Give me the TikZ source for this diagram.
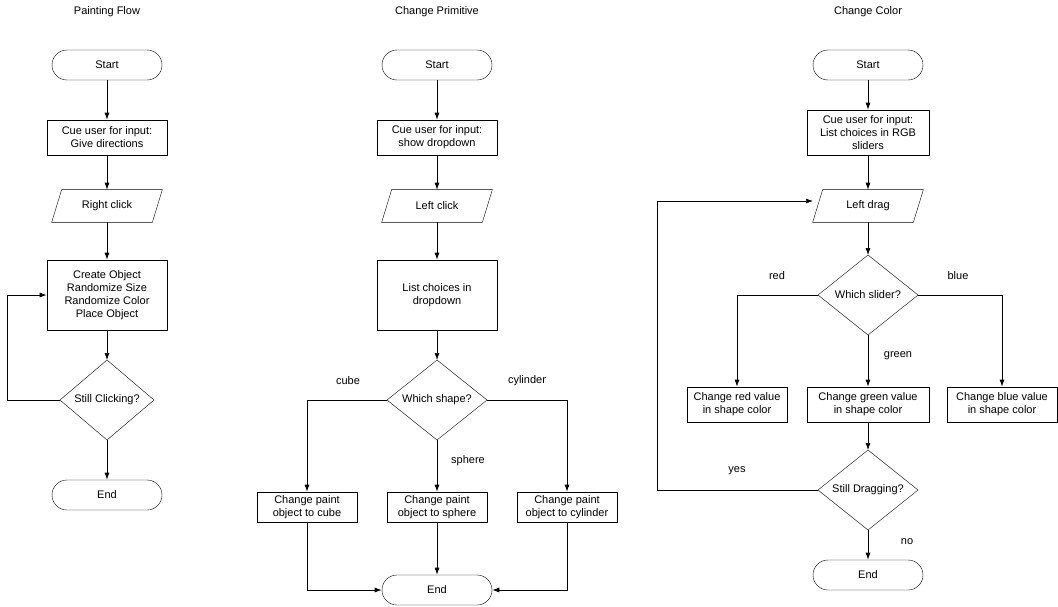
\documentclass[tikz,border=0pt]{standalone}
\usepackage{fontspec}
\setmainfont{Liberation Sans}
\usetikzlibrary{arrows.meta}
\begin{document}
\begin{tikzpicture}[x=1pt,y=-1pt,font=\fontsize{11}{13}\selectfont,
  every node/.style={inner sep=0pt,align=center},
  term/.style={draw,rounded corners=15pt,minimum width=110pt,minimum height=30pt},
  par/.style={minimum width=110pt,minimum height=32pt},
  arr/.style={-{Latex[length=7pt,width=5pt]},line width=0.7pt}]
\useasboundingbox (0,0) rectangle (1058,606);
\tikzset{line width=0.7pt}
% column 1
\node at (107,12) {Painting Flow};
\node[term] (s1) at (107,65) {Start};
\node[draw,minimum width=120pt,minimum height=35pt] (c1) at (107,137.5) {Cue user for input:\\Give directions};
\node[par] (p1) at (107,206) {Right click};
\draw ([xshift=10pt]p1.north west)--(p1.north east)--([xshift=-10pt]p1.south east)--(p1.south west)--cycle;
\node[draw,minimum width=120pt,minimum height=70pt] (b1) at (107,295) {Create Object\\Randomize Size\\Randomize Color\\Place Object};
\node (d1) at (107,400) {Still Clicking?};
\draw (60,400)--(107,360)--(154,400)--(107,440)--cycle;
\coordinate (d1W) at (60,400);\coordinate (d1N) at (107,360);\coordinate (d1S) at (107,440);
\node[term] (e1) at (107,495) {End};
\draw[arr] (s1)--(c1);\draw[arr] (c1)--(p1);\draw[arr] (p1)--(b1);\draw[arr] (b1)--(d1N);\draw[arr] (d1S)--(e1);
\draw[arr] (d1W)--(7,400)--(7,295)--(b1.west);
% column 2
\node at (437,12) {Change Primitive};
\node[term] (s2) at (437,65) {Start};
\node[draw,minimum width=120pt,minimum height=35pt] (c2) at (437,137.5) {Cue user for input:\\show dropdown};
\node[par] (p2) at (437,206) {Left click};
\draw ([xshift=10pt]p2.north west)--(p2.north east)--([xshift=-10pt]p2.south east)--(p2.south west)--cycle;
\node[draw,minimum width=120pt,minimum height=70pt] (b2) at (437,295) {List choices in\\dropdown};
\node (d2) at (437,400) {Which shape?};
\draw (387,400)--(437,360)--(487,400)--(437,440)--cycle;
\coordinate (d2W) at (387,400);\coordinate (d2E) at (487,400);\coordinate (d2N) at (437,360);\coordinate (d2S) at (437,440);
\node[draw,minimum width=100pt,minimum height=30pt] (x1) at (307,507) {Change paint\\object to cube};
\node[draw,minimum width=100pt,minimum height=30pt] (x2) at (437,507) {Change paint\\object to sphere};
\node[draw,minimum width=100pt,minimum height=30pt] (x3) at (567,507) {Change paint\\object to cylinder};
\node[term] (e2) at (437,590) {End};
\draw[arr] (s2)--(c2);\draw[arr] (c2)--(p2);\draw[arr] (p2)--(b2);\draw[arr] (b2)--(d2N);
\draw[arr] (d2W)--(307,400)--(x1);\draw[arr] (d2S)--(x2);\draw[arr] (d2E)--(567,400)--(x3);
\draw[arr] (x1)--(307,590)--(e2.west);\draw[arr] (x2)--(e2);\draw[arr] (x3)--(567,590)--(e2.east);
\node at (348,381) {cube};\node at (468,461) {sphere};\node at (527,381) {cylinder};
% column 3
\node at (868,12) {Change Color};
\node[term] (s3) at (868,65) {Start};
\node[draw,minimum width=122pt,minimum height=45pt] (c3) at (868,132.5) {Cue user for input:\\List choices in RGB\\sliders};
\node[par] (p3) at (868,206) {Left drag};
\draw ([xshift=10pt]p3.north west)--(p3.north east)--([xshift=-10pt]p3.south east)--(p3.south west)--cycle;
\node (d3) at (868,295) {Which slider?};
\draw (818,295)--(868,255)--(918,295)--(868,335)--cycle;
\coordinate (d3W) at (818,295);\coordinate (d3E) at (918,295);\coordinate (d3N) at (868,255);\coordinate (d3S) at (868,335);
\node[draw,minimum width=100pt,minimum height=35pt] (r) at (737,404.5) {Change red value\\in shape color};
\node[draw,minimum width=122pt,minimum height=35pt] (g) at (868,404.5) {Change green value\\in shape color};
\node[draw,minimum width=110pt,minimum height=35pt] (bl) at (1002,404.5) {Change blue value\\in shape color};
\node (d4) at (868,490) {Still Dragging?};
\draw (818,490)--(868,450)--(918,490)--(868,530)--cycle;
\coordinate (d4W) at (818,490);\coordinate (d4N) at (868,450);\coordinate (d4S) at (868,530);
\node[term] (e3) at (868,575) {End};
\draw[arr] (s3)--(c3);\draw[arr] (c3)--(p3);\draw[arr] (p3)--(d3N);
\draw[arr] (d3W)--(737,295)--(r);\draw[arr] (d3S)--(g);\draw[arr] (d3E)--(1002,295)--(bl);
\draw[arr] (g)--(d4N);\draw[arr] (d4S)--(e3);
\coordinate (pin) at (813,201);
\draw[arr] (d4W)--(657,490)--(657,201)--(pin);
\node at (777,276) {red};\node at (958,276) {blue};\node at (898,356) {green};
\node at (737,471) {yes};\node at (907,542) {no};
\end{tikzpicture}
\end{document}
